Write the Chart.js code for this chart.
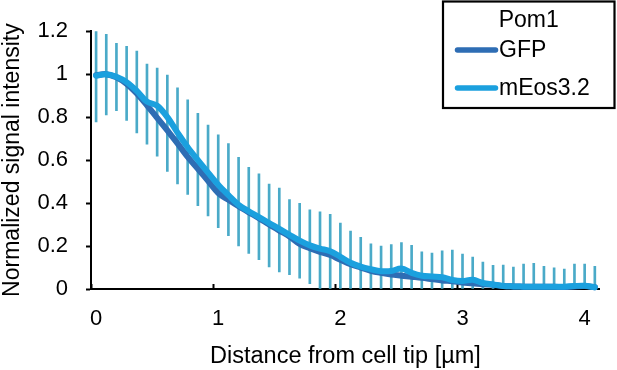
<!DOCTYPE html>
<html><head><meta charset="utf-8">
<script src="https://cdn.jsdelivr.net/npm/chart.js@4.4.1/dist/chart.umd.min.js"></script>
<style>html,body{margin:0;padding:0;background:#fff;}canvas{display:block;}</style>
</head><body>
<canvas id="c" width="617" height="370"></canvas>
<script>
// Distance from cell tip (µm), one category per sampled position
const distances = [0,0.08,0.17,0.25,0.33,0.42,0.5,0.58,0.67,0.75,0.83,0.92,
  1,1.08,1.17,1.25,1.33,1.42,1.5,1.58,1.67,1.75,1.83,1.92,
  2,2.08,2.17,2.25,2.33,2.42,2.5,2.58,2.67,2.75,2.83,2.92,
  3,3.08,3.17,3.25,3.33,3.42,3.5,3.58,3.67,3.75,3.83,3.92,
  4,4.08];
const xTickLabels = [0,1,2,3,4];
const seriesNames = ['GFP','mEos3.2'];
const legendTitle = 'Pom1';

const gfp = [0.995,1.0,0.985,0.955,0.91,0.855,0.797,0.738,0.678,0.615,
  0.56,0.503,0.447,0.415,0.385,0.357,0.33,0.30,0.272,0.245,
  0.21,0.19,0.173,0.158,0.136,0.115,0.1,0.085,0.075,0.067,
  0.062,0.057,0.052,0.046,0.04,0.036,0.03,0.027,0.022,0.02,
  0.014,0.012,0.011,0.01,0.01,0.01,0.009,0.012,0.014,0.008];
const mEos = [0.993,1.0,0.988,0.963,0.922,0.872,0.853,0.80,0.728,0.66,
  0.60,0.542,0.485,0.437,0.392,0.362,0.335,0.307,0.28,0.252,
  0.225,0.203,0.188,0.176,0.15,0.122,0.104,0.092,0.083,0.084,
  0.095,0.075,0.062,0.058,0.055,0.042,0.037,0.043,0.028,0.021,
  0.014,0.012,0.011,0.01,0.01,0.01,0.011,0.014,0.015,0.008];
// Error bar ends (mEos3.2)
const mEosErrUpper = [1.199,1.185,1.144,1.129,1.107,1.047,1.028,0.996,0.936,0.88,
  0.818,0.763,0.718,0.677,0.613,0.566,0.536,0.488,0.47,0.416,
  0.399,0.369,0.359,0.348,0.307,0.27,0.24,0.21,0.2,0.207,
  0.216,0.203,0.173,0.167,0.178,0.181,0.163,0.148,0.125,0.11,
  0.111,0.102,0.116,0.12,0.106,0.098,0.093,0.116,0.116,0.105];
const mEosErrLower = [0.778,0.81,0.83,0.785,0.726,0.674,0.618,0.547,0.489,0.44,
  0.388,0.34,0.285,0.248,0.2,0.166,0.136,0.103,0.08,0.067,
  0.05,0.025,0,0,0,0,0,0,0,0,
  0,0,0,0,0,0,0,0,0,0,
  0,0,0,0,0,0,0,0,0,0];

const FONT = "'Liberation Sans', Arial, Helvetica, sans-serif";
const GFP_COLOR = '#2E6DB4';
const MEOS_COLOR = '#1BA0DE';
const ERR_COLOR = '#4AAAC8';

const boxLegend = {
  id: 'boxLegend',
  afterDraw(chart, args, o) {
    const ctx = chart.ctx;
    ctx.save();
    ctx.fillStyle = '#fff';
    ctx.fillRect(o.left, o.top, o.width, o.height);
    ctx.strokeStyle = '#000';
    ctx.lineWidth = 2.2;
    ctx.strokeRect(o.left, o.top, o.width, o.height);
    ctx.font = o.fontSize + 'px ' + FONT;
    ctx.fillStyle = '#000';
    ctx.textBaseline = 'middle';
    ctx.textAlign = 'center';
    ctx.fillText(o.title, o.left + o.width / 2, o.top + o.titleOffset);
    const items = chart.data.datasets.filter(d => d.type === 'line');
    items.forEach((ds, i) => {
      const y = o.top + o.firstItemOffset + i * o.itemSpacing;
      ctx.strokeStyle = ds.borderColor;
      ctx.lineWidth = o.lineWidth;
      ctx.lineCap = 'round';
      ctx.beginPath();
      ctx.moveTo(o.lineStart, y);
      ctx.lineTo(o.lineEnd, y);
      ctx.stroke();
      ctx.textAlign = 'left';
      ctx.fillStyle = '#000';
      ctx.fillText(ds.label, o.textX, y + 0.5);
    });
    ctx.restore();
  }
};

new Chart(document.getElementById('c'), {
  type: 'bar',
  data: {
    labels: distances,
    datasets: [
      { type: 'line', label: seriesNames[0], data: gfp, borderColor: GFP_COLOR, backgroundColor: GFP_COLOR,
        borderWidth: 6, pointRadius: 0, tension: 0.35, fill: false, clip: false, order: 1,
        borderCapStyle: 'round', borderJoinStyle: 'round' },
      { type: 'line', label: seriesNames[1], data: mEos, borderColor: MEOS_COLOR, backgroundColor: MEOS_COLOR,
        borderWidth: 6, pointRadius: 0, tension: 0.35, fill: false, clip: false, order: 0,
        borderCapStyle: 'round', borderJoinStyle: 'round' },
      { type: 'bar', label: 'mEos3.2 error', data: mEosErrLower.map((lo, i) => [lo, mEosErrUpper[i]]),
        backgroundColor: ERR_COLOR, borderWidth: 0, barThickness: 2, order: 2 }
    ]
  },
  options: {
    responsive: false,
    animation: false,
    devicePixelRatio: 1,
    layout: { padding: { top: 19, right: 17, left: 0, bottom: 0 } },
    plugins: {
      legend: { display: false },
      tooltip: { enabled: false },
      boxLegend: {
        left: 443, top: 1.5, width: 171.5, height: 106.5,
        title: legendTitle, fontSize: 23, titleOffset: 19.5,
        firstItemOffset: 48.5, itemSpacing: 38, lineWidth: 5.5,
        lineStart: 457.5, lineEnd: 495.5, textX: 499
      }
    },
    scales: {
      x: {
        offset: true,
        ticks: {
          autoSkip: false, maxRotation: 0, minRotation: 0, color: '#000',
          font: { family: FONT, size: 22 }, padding: 22,
          callback: function (v, i) { const d = distances[i]; return xTickLabels.includes(d) ? String(d) : ''; }
        },
        grid: {
          offset: true, drawOnChartArea: false, drawTicks: true, tickLength: -5, tickWidth: 2,
          tickColor: (ctx) => xTickLabels.includes(distances[ctx.index]) ? '#000' : 'rgba(0,0,0,0)'
        },
        border: { color: '#000', width: 2 },
        title: { display: true, text: 'Distance from cell tip [µm]', color: '#000',
          font: { family: FONT, size: 23.5, lineHeight: 1 }, padding: { top: 0, bottom: 2 } },
        afterFit(scale) { scale.height = 81; }
      },
      y: {
        min: 0, max: 1.2,
        ticks: { stepSize: 0.2, color: '#000', font: { family: FONT, size: 22 }, padding: 18,
          callback: (v) => String(Number(v.toFixed(1))) },
        grid: { drawOnChartArea: false, drawTicks: true, tickLength: 5, tickWidth: 2, tickColor: '#000' },
        border: { color: '#000', width: 2 },
        title: { display: true, text: 'Normalized signal intensity', color: '#000',
          font: { family: FONT, size: 23, lineHeight: 1 }, padding: { top: 1, bottom: 0 } },
        afterFit(scale) { scale.width = 91; }
      }
    }
  },
  plugins: [boxLegend]
});
</script>
</body></html>
